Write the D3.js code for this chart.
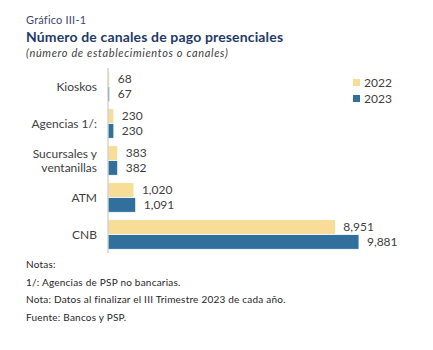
<!DOCTYPE html>
<html>
<head>
<meta charset="utf-8">
<script src="https://cdn.jsdelivr.net/npm/d3@7"></script>
<style>
  body { margin: 0; background: #fff; }
  .cat { font-family: "Lato", "Open Sans", sans-serif; font-size: 12px; fill: #404040; }
  .val { font-family: "Lato", "Open Sans", sans-serif; font-size: 12px; fill: #404040; }
  .hdr { font-family: "Lato", "DejaVu Sans", sans-serif; }
</style>
</head>
<body>
<script>
var categories = ["Kioskos", "Agencias 1/:", "Sucursales y\nventanillas", "ATM", "CNB"];
var years = ["2022", "2023"];
var values2022 = [68, 230, 383, 1020, 8951];
var values2023 = [67, 230, 382, 1091, 9881];
var notes = ["Notas:", "1/: Agencias de PSP no bancarias.",
  "Nota: Datos al finalizar el III Trimestre 2023 de cada año.", "Fuente: Bancos y PSP."];

var colors = {"2022": "#F8DD98", "2023": "#316F9D"};

var svg = d3.select("body").append("svg")
  .attr("width", 433)
  .attr("height", 350);

// headings
svg.append("text").attr("class", "hdr").attr("x", 26).attr("y", 24)
  .style("font-size", "11px").style("letter-spacing", "0.2px").style("fill", "#3B4A63").text("Gráfico III-1");
svg.append("text").attr("class", "hdr").attr("x", 26).attr("y", 42)
  .style("font-size", "14px").style("letter-spacing", "0.15px").style("font-weight", "bold").style("fill", "#1F3A68")
  .text("Número de canales de pago presenciales");
svg.append("text").attr("class", "hdr").attr("x", 26).attr("y", 57)
  .style("font-size", "11px").style("letter-spacing", "0.65px").style("font-style", "italic").style("fill", "#404040")
  .text("(número de establecimientos o canales)");

var x = d3.scaleLinear().domain([0, 10000]).range([108, 362]);
var y = d3.scaleBand().domain(categories).range([68, 253])
  .paddingInner(0.2).paddingOuter(0.1);
var y1 = d3.scaleBand().domain(years).range([0, y.bandwidth()]);

var rows = categories.map(function(c, i) {
  return {cat: c, vals: [{year: "2022", v: values2022[i]}, {year: "2023", v: values2023[i]}]};
});

var g = svg.selectAll("g.row").data(rows).enter().append("g")
  .attr("class", "row")
  .attr("transform", function(d) { return "translate(0," + y(d.cat) + ")"; });

g.selectAll("rect").data(function(d) { return d.vals; }).enter().append("rect")
  .attr("x", x(0))
  .attr("y", function(d) { return y1(d.year); })
  .attr("width", function(d) { return x(d.v) - x(0); })
  .attr("height", y1.bandwidth())
  .attr("fill", function(d) { return colors[d.year]; })
  .attr("stroke", "#fff")
  .attr("stroke-width", 0.8);

g.selectAll("text.val").data(function(d) { return d.vals; }).enter().append("text")
  .attr("class", "val")
  .attr("x", function(d) { return x(d.v) + 8; })
  .attr("y", function(d) { return y1(d.year) + y1.bandwidth() / 2; })
  .attr("dy", "0.35em")
  .text(function(d) { return d3.format(",")(d.v); });

// category labels
g.each(function(d) {
  var lines = d.cat.split("\n");
  var t = d3.select(this).append("text").attr("class", "cat")
    .attr("text-anchor", "end")
    .attr("y", y.bandwidth() / 2);
  lines.forEach(function(l, i) {
    t.append("tspan").attr("x", 97)
      .attr("dy", i == 0 ? (0.35 - (lines.length - 1) * 0.55) + "em" : "1.15em")
      .text(l);
  });
});

// axis line
svg.append("line")
  .attr("x1", x(0)).attr("x2", x(0))
  .attr("y1", 68).attr("y2", 253)
  .attr("stroke", "#BFBFBF").attr("stroke-width", 1);

// legend
var leg = svg.selectAll("g.leg").data(years).enter().append("g")
  .attr("class", "leg")
  .attr("transform", function(d, i) { return "translate(353," + (79 + i * 16) + ")"; });
leg.append("rect").attr("width", 7).attr("height", 7)
  .attr("fill", function(d) { return colors[d]; });
leg.append("text").attr("class", "val").attr("x", 11).attr("y", 3.5).attr("dy", "0.35em")
  .text(function(d) { return d; });

// notes
svg.selectAll("text.note").data(notes).enter().append("text")
  .attr("class", "note hdr")
  .attr("x", 26)
  .attr("y", function(d, i) { return 268 + i * 17.5; })
  .style("font-size", "10px").style("letter-spacing", "0.22px").style("fill", "#262626")
  .text(function(d) { return d; });
</script>
</body>
</html>
